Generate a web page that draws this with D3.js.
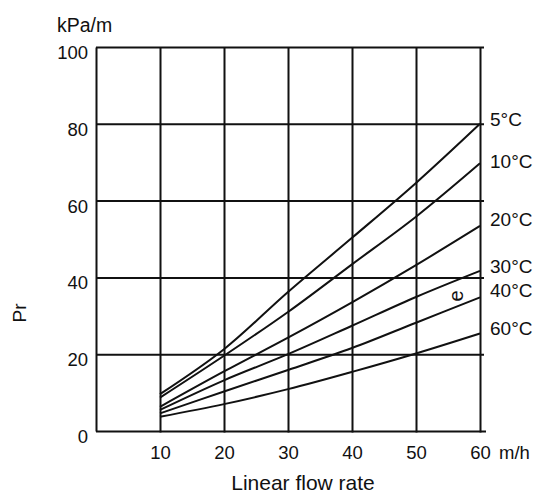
<!DOCTYPE html>
<html>
<head>
<meta charset="utf-8">
<script src="https://cdn.jsdelivr.net/npm/d3@7"></script>
<style>
  body { margin: 0; background: #fff; }
  svg text { font-family: "Liberation Sans", Arial, sans-serif; fill: #111; }
</style>
</head>
<body>
<div id="chart"></div>
<script>
// flow rate (m/h)
const flowRates = [10, 20, 30, 40, 50, 60];
const temps = ["5°C", "10°C", "20°C", "30°C", "40°C", "60°C"];
// pressure drop (kPa/m) per temperature
const pr5 = [9.6, 21.3, 36.2, 50.3, 64.6, 80];
const pr10 = [8.7, 19.6, 31, 43.4, 55.8, 69.7];
const pr20 = [6.3, 15.5, 24.3, 33.5, 43.2, 53.4];
const pr30 = [5.5, 13.2, 20.0, 27.4, 34.9, 41.7];
const pr40 = [4.6, 10.3, 15.9, 21.6, 28.2, 34.8];
const pr60 = [3.7, 7.0, 10.9, 15.4, 20.2, 25.4];
const xTicks = [10, 20, 30, 40, 50, 60];
const yTicks = [0, 20, 40, 60, 80, 100];

const series = [pr5, pr10, pr20, pr30, pr40, pr60];
const labelY = [126, 167.7, 226, 272.7, 297.3, 335];

function renderChart(container_id) {
  const width = 534, height = 495;
  const svg = d3.select(container_id).append("svg")
    .attr("width", width)
    .attr("height", height);

  const x = d3.scaleLinear().domain([0, 60]).range([96, 480]);
  const y = d3.scaleLinear().domain([0, 100]).range([431, 47]);

  // y axis + horizontal grid
  const yAxis = svg.append("g")
    .attr("transform", "translate(96,0)")
    .call(d3.axisLeft(y).tickValues(yTicks).tickSize(-388).tickSizeOuter(0).tickPadding(8));
  yAxis.selectAll(".tick line").attr("stroke", "#111").attr("stroke-width", 2)
    .filter(d => d === 0).attr("x2", 390);
  yAxis.select(".domain").attr("stroke", "#111").attr("stroke-width", 2);
  yAxis.selectAll(".tick text")
    .attr("dy", null).attr("y", 11.5)
    .style("font-size", "18.5px");

  // x axis + vertical grid
  const xAxis = svg.append("g")
    .attr("transform", "translate(0,431)")
    .call(d3.axisBottom(x).tickValues(xTicks).tickSize(-384).tickSizeOuter(0));
  xAxis.select(".domain").remove();
  xAxis.selectAll(".tick line").attr("stroke", "#111").attr("stroke-width", 2).attr("y1", 1.5);
  xAxis.selectAll(".tick text")
    .attr("dy", null).attr("y", 28)
    .style("font-size", "18.5px");

  const line = d3.line()
    .x((d, i) => x(flowRates[i]))
    .y(d => y(d))
    .curve(d3.curveCatmullRom);

  svg.append("g").selectAll("path")
    .data(series)
    .join("path")
    .attr("d", line)
    .attr("fill", "none")
    .attr("stroke", "#111")
    .attr("stroke-width", 2);

  svg.append("g").selectAll("text")
    .data(temps)
    .join("text")
    .attr("x", 490)
    .attr("y", (d, i) => labelY[i])
    .style("font-size", "19px")
    .text(d => d);

  svg.append("text")
    .attr("transform", "translate(463,296) rotate(-90)")
    .attr("text-anchor", "middle")
    .style("font-size", "20px")
    .text("e");

  svg.append("text").attr("x", 57).attr("y", 32).style("font-size", "19.5px").text("kPa/m");
  svg.append("text").attr("x", 499).attr("y", 459).style("font-size", "18.5px").text("m/h");
  svg.append("text").attr("x", 303).attr("y", 490).attr("text-anchor", "middle")
    .style("font-size", "21px").text("Linear flow rate");
  svg.append("text")
    .attr("transform", "translate(26,313) rotate(-90)")
    .attr("text-anchor", "middle")
    .style("font-size", "19px")
    .text("Pr");
}

renderChart("#chart");
</script>
</body>
</html>
